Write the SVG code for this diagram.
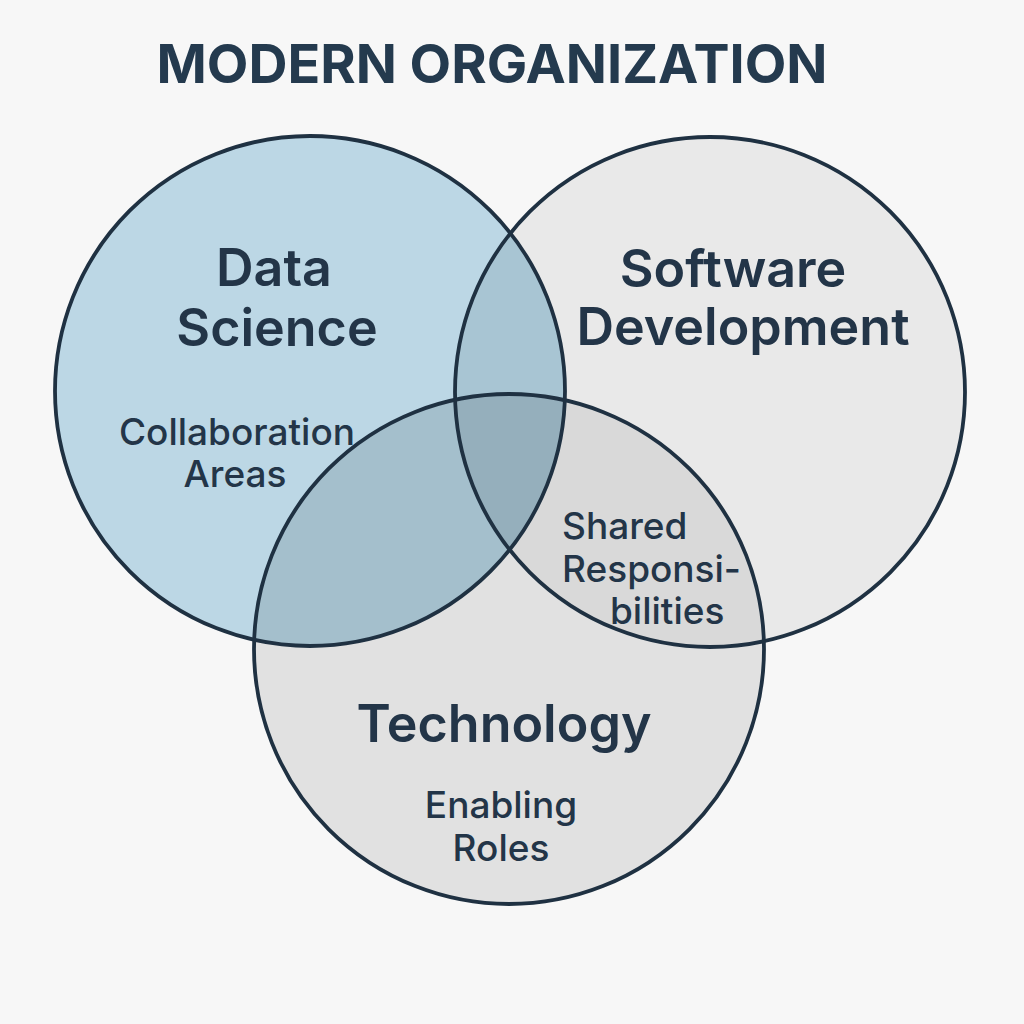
<svg xmlns="http://www.w3.org/2000/svg" width="1024" height="1024" viewBox="0 0 1024 1024">
  <defs>
    <clipPath id="clipDS"><circle cx="310" cy="391" r="255"/></clipPath>
    <clipPath id="clipSD"><circle cx="710" cy="392" r="255"/></clipPath>
    <clipPath id="clipTech"><circle cx="509" cy="649" r="255"/></clipPath>
    <style>
      .outline { fill: none; stroke: #1f3142; stroke-width: 3.8; }
      .title { font-family: Inter, "Liberation Sans", sans-serif; font-weight: 700; font-size: 54px; fill: #243a4e; text-anchor: middle; }
      .big { font-family: Inter, "Liberation Sans", sans-serif; font-weight: 600; font-size: 52px; fill: #233548; text-anchor: middle; }
      .small { font-family: Inter, "Liberation Sans", sans-serif; font-weight: 500; font-size: 37px; fill: #233548; }
      .mid { text-anchor: middle; }
    </style>
  </defs>
  <rect width="1024" height="1024" fill="#f7f7f7"/>
  <text id="title" class="title" x="492" y="83">MODERN ORGANIZATION</text>

  <g id="fills">
    <circle cx="310" cy="391" r="255" fill="#bcd7e5"/>
    <circle cx="710" cy="392" r="255" fill="#e9e9e9"/>
    <circle cx="509" cy="649" r="255" fill="#e1e1e1"/>
    <circle cx="710" cy="392" r="255" fill="#a8c5d3" clip-path="url(#clipDS)"/>
    <circle cx="509" cy="649" r="255" fill="#a4bfcc" clip-path="url(#clipDS)"/>
    <circle cx="509" cy="649" r="255" fill="#d9d9d9" clip-path="url(#clipSD)"/>
    <g clip-path="url(#clipDS)">
      <circle cx="509" cy="649" r="255" fill="#95afbc" clip-path="url(#clipSD)"/>
    </g>
  </g>

  <g id="node-data-science">
    <circle class="outline" cx="310" cy="391" r="255"/>
    <text class="big" x="274" y="286">Data</text>
    <text class="big" x="277" y="346">Science</text>
    <text class="small mid" x="237" y="445">Collaboration</text>
    <text class="small mid" x="235" y="487">Areas</text>
  </g>
  <g id="node-software-development">
    <circle class="outline" cx="710" cy="392" r="255"/>
    <text class="big" x="733" y="287">Software</text>
    <text class="big" x="743" y="345">Development</text>
  </g>
  <g id="node-technology">
    <circle class="outline" cx="509" cy="649" r="255"/>
    <text class="big" x="504" y="742">Technology</text>
    <text class="small mid" x="501" y="818">Enabling</text>
    <text class="small mid" x="501" y="861">Roles</text>
  </g>
  <g id="label-shared">
    <text class="small" x="562" y="539">Shared</text>
    <text class="small" x="562" y="582">Responsi-</text>
    <text class="small" x="610" y="624">bilities</text>
  </g>
  <g id="connectors"></g>
</svg>
